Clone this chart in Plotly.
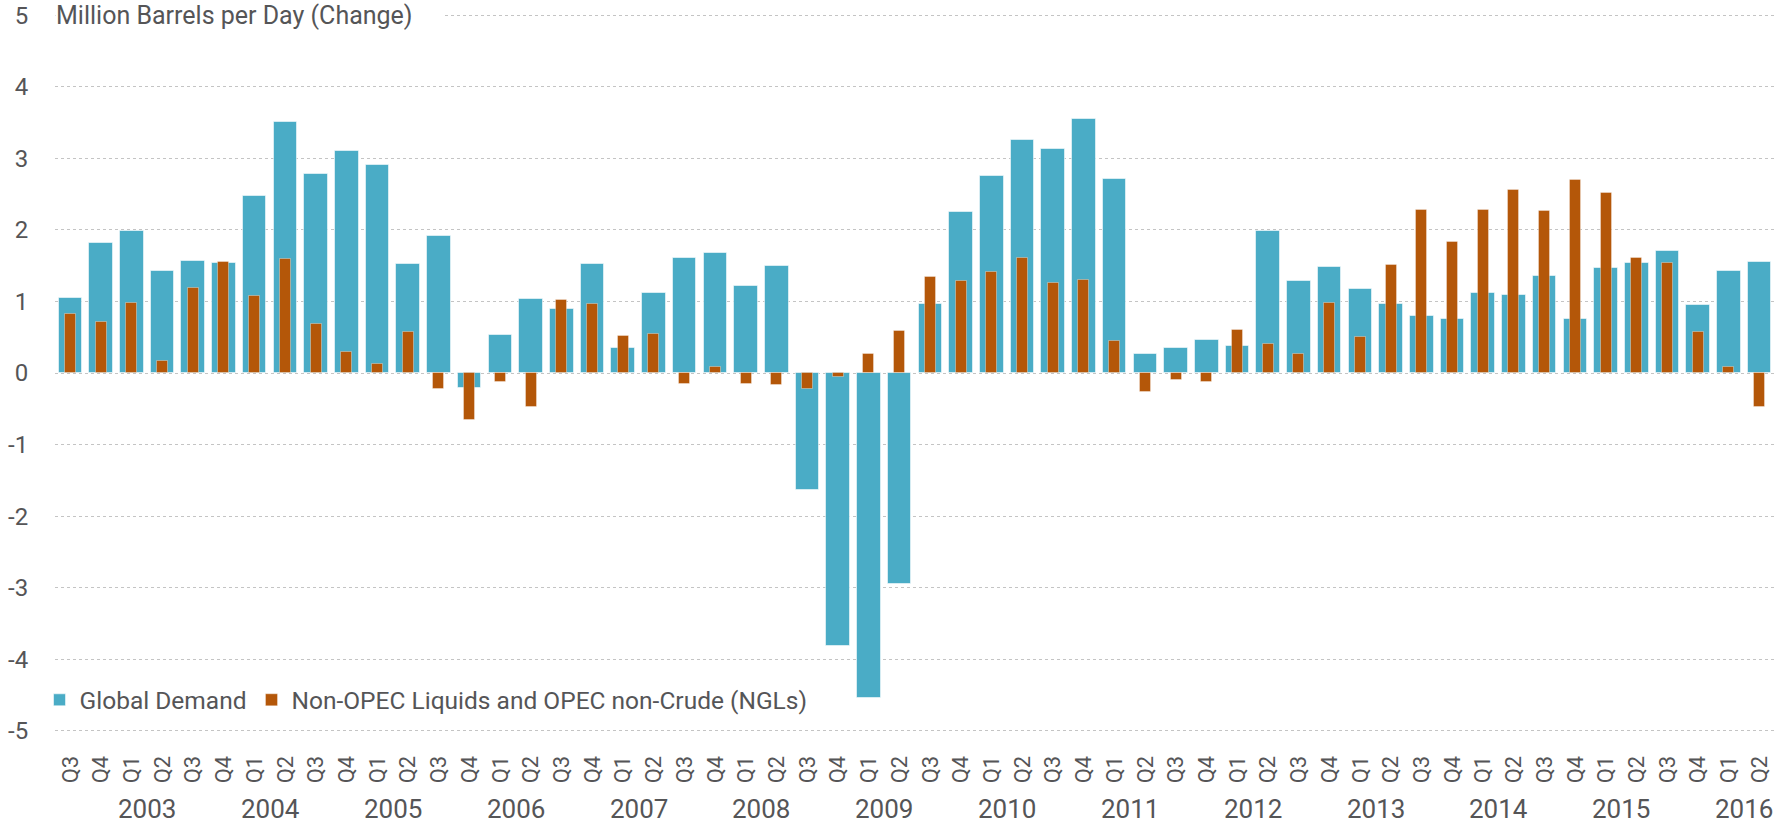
import plotly.graph_objects as go

# ---- data -------------------------------------------------------------
bar_year = [2002, 2002] + [y for y in range(2003, 2016) for _ in range(4)] + [2016, 2016]
quarter_labels = (["Q3", "Q4"]
                  + ["Q1", "Q2", "Q3", "Q4"] * 13
                  + ["Q1", "Q2"])
year_labels = ["2003", "2004", "2005", "2006", "2007", "2008", "2009",
               "2010", "2011", "2012", "2013", "2014", "2015", "2016"]
y_tick_vals = [-5, -4, -3, -2, -1, 0, 1, 2, 3, 4, 5]
y_tick_text = ["-5", "-4", "-3", "-2", "-1", "0", "1", "2", "3", "4", "5"]

global_demand = [
    1.05, 1.81,                     # 2002 Q3-Q4
    1.98, 1.42, 1.56, 1.54,         # 2003
    2.48, 3.51, 2.78, 3.10,         # 2004
    2.91, 1.52, 1.92, -0.21,        # 2005
    0.53, 1.03, 0.89, 1.52,         # 2006
    0.35, 1.12, 1.61, 1.68,         # 2007
    1.21, 1.50, -1.64, -3.81,       # 2008
    -4.54, -2.95, 0.97, 2.25,       # 2009
    2.75, 3.26, 3.13, 3.55,         # 2010
    2.71, 0.26, 0.35, 0.46,         # 2011
    0.38, 1.98, 1.29, 1.48,         # 2012
    1.17, 0.96, 0.79, 0.76,         # 2013
    1.12, 1.09, 1.36, 0.76,         # 2014
    1.47, 1.54, 1.71, 0.95,         # 2015
    1.42, 1.55,                     # 2016
]
non_opec = [
    0.83, 0.71,
    0.98, 0.17, 1.19, 1.55,
    1.08, 1.59, 0.69, 0.30,
    0.13, 0.57, -0.23, -0.66,
    -0.13, -0.48, 1.02, 0.97,
    0.52, 0.55, -0.15, 0.09,
    -0.15, -0.17, -0.22, -0.05,
    0.27, 0.59, 1.34, 1.28,
    1.41, 1.60, 1.26, 1.30,
    0.45, -0.27, -0.10, -0.13,
    0.60, 0.41, 0.26, 0.98,
    0.51, 1.51, 2.28, 1.83,
    2.28, 2.56, 2.27, 2.69,
    2.51, 1.61, 1.54, 0.57,
    0.08, -0.47,
]

# ---- styling ----------------------------------------------------------
FONT = "Roboto"
GREY = "#555557"
BLUE = "#4aacc6"
ORANGE = "#b45709"

idx = list(range(len(quarter_labels)))

fig = go.Figure()
fig.add_trace(go.Bar(
    x=idx, y=global_demand, name="Global Demand", width=0.77,
    marker=dict(color=BLUE, line=dict(color="rgba(255,255,255,0.55)", width=1)),
))
fig.add_trace(go.Bar(
    x=idx, y=non_opec, name="Non-OPEC Liquids and OPEC non-Crude (NGLs)", width=0.36,
    marker=dict(color=ORANGE, line=dict(color="rgba(255,255,255,0.35)", width=1)),
))

# year labels: centred between Q1 and Q2 of each year
annotations = []
for yl in year_labels:
    yr = int(yl)
    q1 = [i for i in idx if bar_year[i] == yr and quarter_labels[i] == "Q1"][0]
    q2 = [i for i in idx if bar_year[i] == yr and quarter_labels[i] == "Q2"][0]
    annotations.append(dict(
        x=(q1 + q2) / 2, y=0, xref="x", yref="paper", yshift=-76,
        text=yl, showarrow=False, xanchor="center", yanchor="middle",
        font=dict(family=FONT, size=26, color=GREY),
    ))

annotations.append(dict(
    x=0, y=5, xref="paper", yref="y", xanchor="left", yanchor="middle",
    text="Million Barrels per Day (Change)" + "\u00a0" * 5,
    showarrow=False, bgcolor="white", borderpad=0,
    font=dict(family=FONT, size=25, color=GREY),
))

fig.update_layout(
    width=1787, height=824,
    margin=dict(l=55, r=12, t=13, b=91, autoexpand=False),
    paper_bgcolor="white", plot_bgcolor="white",
    barmode="overlay", bargap=0,
    font=dict(family=FONT, color=GREY),
    showlegend=True,
    legend=dict(
        orientation="h", x=-0.009, xanchor="left", y=0.046, yanchor="middle",
        bgcolor="rgba(0,0,0,0)", font=dict(family=FONT, size=24.5, color=GREY),
        itemwidth=30, traceorder="normal",
    ),
    annotations=annotations,
    xaxis=dict(
        range=[-0.5, len(idx) - 0.5], automargin=False,
        tickmode="array", tickvals=idx, ticktext=quarter_labels,
        tickangle=-90, tickfont=dict(family=FONT, size=22, color=GREY),
        ticks="outside", ticklen=13, tickcolor="rgba(0,0,0,0)",
        showgrid=False, zeroline=False, showline=False,
    ),
    yaxis=dict(
        range=[-5.03, 5.03], automargin=False, tickmode="array",
        tickvals=y_tick_vals, ticktext=y_tick_text,
        tickfont=dict(family=FONT, size=24, color=GREY),
        ticks="outside", ticklen=21, tickcolor="rgba(0,0,0,0)",
        showgrid=True, gridcolor="#c4c4c4", gridwidth=1, griddash="dot",
        zeroline=False, showline=False,
    ),
)

fig.write_html("out.html",
               config={"displayModeBar": False},
               post_script="document.body.style.margin='0';document.body.style.overflow='hidden';")
